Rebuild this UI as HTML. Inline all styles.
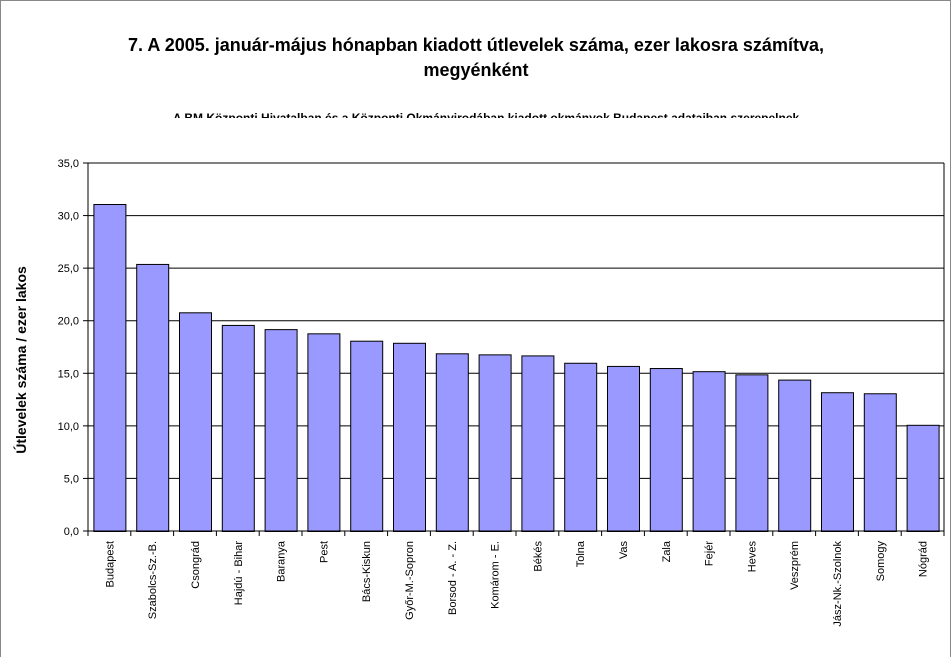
<!DOCTYPE html>
<html><head><meta charset="utf-8"><style>
html,body{margin:0;padding:0;background:#fff;width:952px;height:657px;overflow:hidden}
svg{display:block;font-family:"Liberation Sans",Arial,sans-serif}
</style></head><body>
<svg width="952" height="657">
<rect x="0.5" y="0.5" width="950" height="680" fill="#fff" stroke="#888"/>
<text x="476" y="51" text-anchor="middle" font-size="18" font-weight="bold">7. A 2005. január-május hónapban kiadott útlevelek száma, ezer lakosra számítva,</text>
<text x="476" y="76" text-anchor="middle" font-size="18" font-weight="bold">megyénként</text>
<svg x="0" y="100" width="952" height="18" overflow="hidden">
<text x="486" y="22" text-anchor="middle" font-size="12" font-weight="bold">A BM Központi Hivatalban és a Központi Okmányirodában kiadott okmányok Budapest adataiban szerepelnek</text>
</svg>
<text transform="translate(26,360) rotate(-90)" text-anchor="middle" font-size="14" font-weight="bold">Útlevelek száma / ezer lakos</text>
<g id="grid"></g><g id="bars"></g><g id="axes"></g>
</svg>
<script>
const categories=["Budapest","Szabolcs-Sz.-B.","Csongrád","Hajdú - Bihar","Baranya","Pest","Bács-Kiskun","Győr-M.-Sopron","Borsod - A. - Z.","Komárom - E.","Békés","Tolna","Vas","Zala","Fejér","Heves","Veszprém","Jász-Nk.-Szolnok","Somogy","Nógrád"];
const values=[31.1,25.4,20.8,19.6,19.2,18.8,18.1,17.9,16.9,16.8,16.7,16.0,15.7,15.5,15.2,14.9,14.4,13.2,13.1,10.1];
const yTicks=[0,5,10,15,20,25,30,35];
const yTickLabels=["0,0","5,0","10,0","15,0","20,0","25,0","30,0","35,0"];
const NS="http://www.w3.org/2000/svg";
const L=88,R=944,T=163,B=531,YMAX=35;
const y=v=>B-(v/YMAX)*(B-T);
const step=(R-L)/categories.length;
const x=i=>L+i*step;
function mk(tag,attrs,parent){const e=document.createElementNS(NS,tag);for(const k in attrs)e.setAttribute(k,attrs[k]);parent.appendChild(e);return e;}
const grid=document.getElementById('grid'),bars=document.getElementById('bars'),axes=document.getElementById('axes');
yTicks.forEach((t,i)=>{
  if(t>0){const g=mk('line',{x1:L,x2:R,y1:y(t),y2:y(t),stroke:'#000','stroke-width':1},grid);
  
  }
  const tk=mk('line',{x1:L-5,x2:L,y1:y(t),y2:y(t),stroke:'#000'},axes);
  
  
  const lb=mk('text',{x:L-9,y:y(t)+4,'text-anchor':'end','font-size':11},axes);
  lb.textContent=yTickLabels[i];
  
  
});
mk('line',{x1:R,x2:R,y1:T,y2:B,stroke:'#000'},grid);
values.forEach((v,i)=>{
  const bw=32,bx=x(i)+(step-bw)/2;
  const r=mk('rect',{x:bx+0.5,y:y(v)+0.5,width:bw,height:B-y(v),fill:'#9999ff',stroke:'#000','stroke-width':1},bars);
  
  
  const cx=x(i)+step/2;
  const lb=mk('text',{transform:`translate(${cx+4},${B+10}) rotate(-90)`,'text-anchor':'end','font-size':11},axes);
  lb.textContent=categories[i];
  
  
});
for(let i=0;i<=categories.length;i++){
  const tk=mk('line',{x1:x(i),x2:x(i),y1:B,y2:B+5,stroke:'#000'},axes);
  
  
}
const ya=mk('line',{x1:L,x2:L,y1:T,y2:B,stroke:'#000'},axes);


const xa=mk('line',{x1:L,x2:R,y1:B,y2:B,stroke:'#000'},axes);


</script>
</body></html>
